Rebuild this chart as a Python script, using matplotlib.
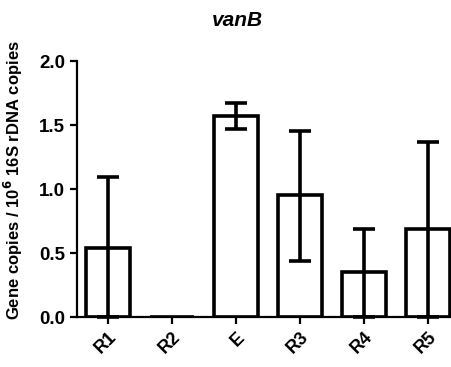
import numpy as np
import matplotlib.pyplot as plt

plt.rcParams['font.family'] = ['Liberation Sans', 'DejaVu Sans']

# Data
samples = ['R1', 'R2', 'E', 'R3', 'R4', 'R5']
means = [0.54, 0.0, 1.57, 0.95, 0.35, 0.69]
upper = [1.09, 0.0, 1.67, 1.45, 0.69, 1.37]
lower = [0.0, 0.0, 1.47, 0.44, 0.0, 0.0]

means = np.array(means)
err_lo = means - np.array(lower)
err_hi = np.array(upper) - means
x = np.arange(len(samples))
has_data = means > 0  # R2 has nothing drawn

fig = plt.figure(figsize=(4.51, 3.67), dpi=100)
ax = fig.add_axes([77 / 451, 50 / 367, 374 / 451, 256 / 367])

ax.bar(x, means, width=0.69, color='white', edgecolor='black', linewidth=2.6, zorder=2)
ax.errorbar(x[has_data], means[has_data],
            yerr=[err_lo[has_data], err_hi[has_data]], fmt='none', ecolor='black',
            elinewidth=2.6, capsize=8, capthick=2.6, zorder=3, clip_on=False)

ax.set_xlim(-0.48, 5.36)
ax.set_ylim(0, 2.0)
ax.set_yticks([0.0, 0.5, 1.0, 1.5, 2.0])
ax.set_yticklabels(['0.0', '0.5', '1.0', '1.5', '2.0'], fontweight='bold', fontsize=13.5)
ax.set_xticks(x)
ax.set_xticklabels(samples, rotation=45, ha='right', rotation_mode='anchor',
                   fontweight='bold', fontsize=13)

for side in ['top', 'right']:
    ax.spines[side].set_visible(False)
for side in ['left', 'bottom']:
    ax.spines[side].set_linewidth(1.6)
ax.tick_params(width=1.6, length=5)

ax.set_ylabel('Gene copies / 10$^{\\mathbf{6}}$ 16S rDNA copies', fontweight='bold',
              fontsize=12)
ax.yaxis.set_label_coords(-0.139, 0.535)
fig.text(237 / 451, 1 - 20 / 367, 'vanB', fontstyle='italic', fontweight='bold',
         fontsize=15, ha='center', va='center')

fig.savefig('out.png', dpi=100)
